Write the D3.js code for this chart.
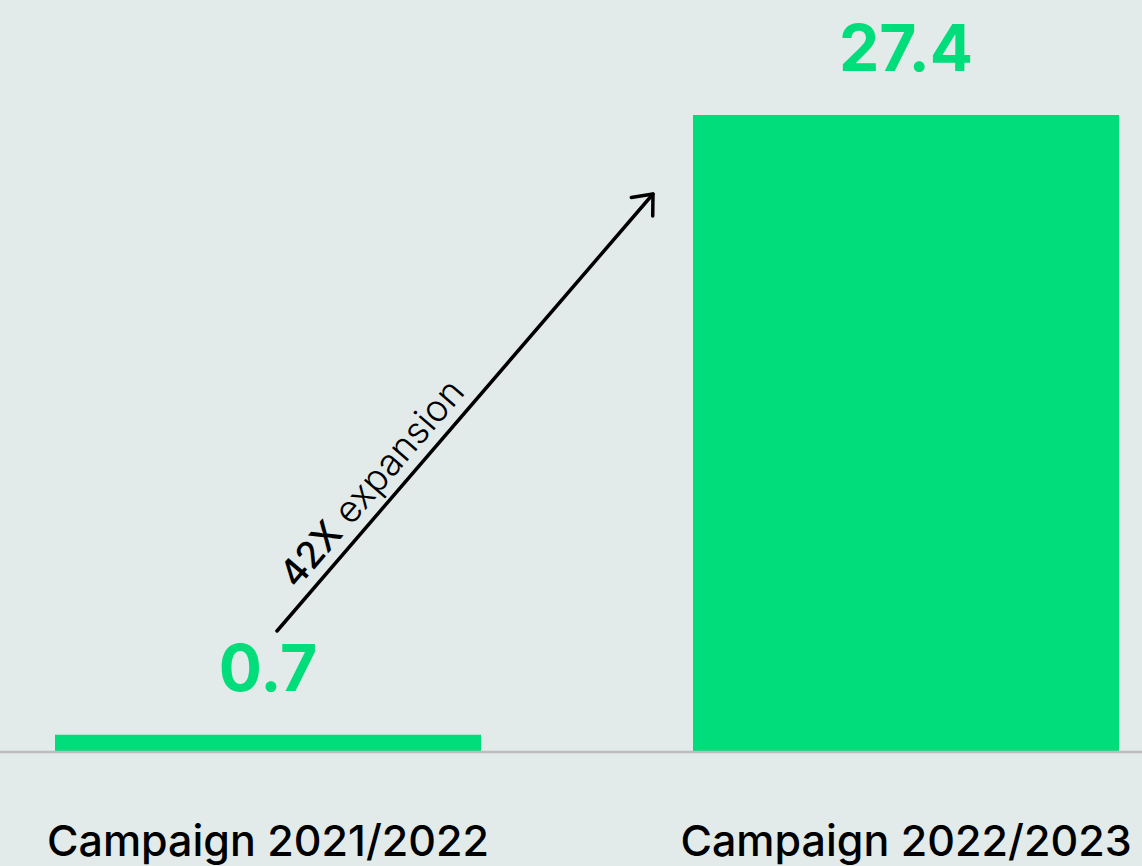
<!DOCTYPE html>
<html>
<head>
<meta charset="utf-8">
<script src="https://cdn.jsdelivr.net/npm/d3@7"></script>
<style>
  html, body { margin: 0; padding: 0; background: #E2EBE9; }
  svg { display: block; }
</style>
</head>
<body>
<svg id="chart" width="1142" height="866"></svg>
<script>
// ---- data ----
const categories = ["Campaign 2021/2022", "Campaign 2022/2023"];
const values = [0.7, 27.4];
const valueLabels = ["0.7", "27.4"];
const annotationBold = "42X";
const annotationLight = " expansion";

// ---- layout ----
const W = 1142, H = 866;
const green = "#00DD7A";
const svg = d3.select("#chart");

svg.append("rect").attr("width", W).attr("height", H).attr("fill", "#E2EBE9");

const x = d3.scaleBand()
  .domain(categories)
  .range([55, 1119])
  .paddingInner(0.3323)
  .paddingOuter(0);

const y = d3.scaleLinear()
  .domain([0, d3.max(values)])
  .range([751, 115]);

const data = categories.map((c, i) => ({ cat: c, v: values[i], label: valueLabels[i] }));

// bars
svg.selectAll("rect.bar")
  .data(data)
  .join("rect")
  .attr("class", "bar")
  .attr("x", d => x(d.cat))
  .attr("width", x.bandwidth())
  .attr("y", d => y(d.v))
  .attr("height", d => y(0) - y(d.v))
  .attr("fill", green);

// baseline
svg.append("line")
  .attr("x1", 0).attr("x2", W)
  .attr("y1", y(0) + 1).attr("y2", y(0) + 1)
  .attr("stroke", "#BDBDBD")
  .attr("stroke-width", 2.4);

// value labels
svg.selectAll("text.val")
  .data(data)
  .join("text")
  .attr("class", "val")
  .attr("x", d => x(d.cat) + x.bandwidth() / 2)
  .attr("y", d => y(d.v) - 44)
  .attr("text-anchor", "middle")
  .attr("font-family", "Inter, 'Noto Sans', sans-serif")
  .attr("font-weight", 700)
  .attr("font-size", 64)
  .attr("fill", green)
  .text(d => d.label);

// category axis labels
const xAxis = d3.axisBottom(x).tickSize(0).tickPadding(0);
const gx = svg.append("g")
  .attr("transform", `translate(0, 856)`)
  .call(xAxis);
gx.select(".domain").remove();
gx.selectAll("text")
  .attr("dy", 0)
  .attr("y", 0)
  .attr("font-family", "Inter, 'Noto Sans', sans-serif")
  .attr("font-weight", 500)
  .attr("font-size", 43)
  .attr("fill", "#000");

// ---- arrow annotation ----
const a0 = [277, 631], a1 = [653, 194];
const ang = Math.atan2(a1[1] - a0[1], a1[0] - a0[0]);
const g = svg.append("g");
g.append("line")
  .attr("x1", a0[0]).attr("y1", a0[1])
  .attr("x2", a1[0]).attr("y2", a1[1])
  .attr("stroke", "#000").attr("stroke-width", 3.5)
  .attr("stroke-linecap", "round");
const headLen = 22, headAng = 40 * Math.PI / 180;
const back = ang + Math.PI;
const p1 = [a1[0] + headLen * Math.cos(back - headAng), a1[1] + headLen * Math.sin(back - headAng)];
const p2 = [a1[0] + headLen * Math.cos(back + headAng), a1[1] + headLen * Math.sin(back + headAng)];
g.append("path")
  .attr("d", d3.line()([p1, a1, p2]))
  .attr("fill", "none")
  .attr("stroke", "#000").attr("stroke-width", 3.5)
  .attr("stroke-linecap", "round").attr("stroke-linejoin", "round");

const dir = [Math.cos(ang), Math.sin(ang)];
const nrm = [dir[1], -dir[0]]; // pointing up-left
const along = 44, off = 12;
const tp = [a0[0] + dir[0] * along + nrm[0] * off, a0[1] + dir[1] * along + nrm[1] * off];
const t = g.append("text")
  .attr("transform", `translate(${tp[0]},${tp[1]}) rotate(${ang * 180 / Math.PI})`)
  .attr("font-family", "Inter, 'Noto Sans', sans-serif")
  .attr("font-size", 37)
  .attr("fill", "#000");
t.append("tspan").attr("font-weight", 500).text(annotationBold);
t.append("tspan").attr("font-weight", 300).text(annotationLight);
</script>
</body>
</html>
